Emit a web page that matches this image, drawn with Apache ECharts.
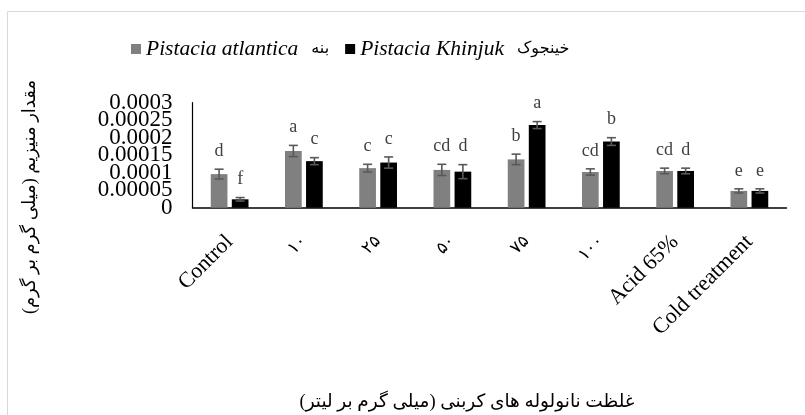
<!DOCTYPE html>
<html><head><meta charset="utf-8">
<script src="https://cdn.jsdelivr.net/npm/echarts@6/dist/echarts.min.js"></script>
<style>html,body{margin:0;padding:0;background:#fff}#c{width:805px;height:415px}</style>
</head><body><div id="c"></div>
<script>
const categories = ['Control', '۱۰', '۲۵', '۵۰', '۷۵', '۱۰۰', 'Acid 65%', 'Cold treatment'];
const atlanticaValues = [0.000096, 0.000162, 0.000113, 0.000108, 0.000138, 0.000102, 0.000105, 0.000048];
const atlanticaErrors = [0.000014, 0.000016, 0.000011, 0.000016, 0.000015, 0.000009, 0.000008, 0.000006];
const atlanticaLetters = ['d', 'a', 'c', 'cd', 'b', 'cd', 'cd', 'e'];
const khinjukValues = [0.000024, 0.000133, 0.000129, 0.000103, 0.000236, 0.000189, 0.000105, 0.000048];
const khinjukErrors = [0.000005, 0.00001, 0.000016, 0.00002, 0.00001, 0.000011, 0.000008, 0.000006];
const khinjukLetters = ['f', 'c', 'c', 'd', 'a', 'b', 'd', 'e'];
const yTickLabels = ['0', '0.00005', '0.0001', '0.00015', '0.0002', '0.00025', '0.0003'];
const seriesNames = ['Pistacia atlantica', 'Pistacia Khinjuk'];
const seriesPersian = ['بنه', 'خینجوک'];
const yTitle = 'مقدار منیزیم (میلی گرم بر گرم)';
const xTitle = 'غلظت نانولوله های کربنی (میلی گرم بر لیتر)';

const SERIF = "'Liberation Serif', 'DejaVu Serif', 'DejaVu Sans', serif";
const BAR_W = 0.225, BAR_GAP = 0.26;
const chart = echarts.init(document.getElementById('c'));

function errSeries(values, errors, letters, side) {
  return {
    type: 'custom',
    silent: true,
    z: 5,
    data: values.map((v, i) => [i, v, errors[i]]),
    renderItem: function (params, api) {
      const i = api.value(0), v = api.value(1), e = api.value(2);
      const band = api.size([1, 0])[0];
      const off = side * band * (BAR_W + BAR_W * BAR_GAP) / 2;
      const c = api.coord([i, v]);
      const x = c[0] + off;
      const yTop = api.coord([i, v + e])[1];
      const yBot = api.coord([i, v - e])[1];
      const cap = 4.5;
      const st = { stroke: '#595959', lineWidth: 1.6 };
      return {
        type: 'group',
        children: [
          { type: 'line', shape: { x1: x, y1: yTop, x2: x, y2: yBot }, style: st },
          { type: 'line', shape: { x1: x - cap, y1: yTop, x2: x + cap, y2: yTop }, style: st },
          { type: 'line', shape: { x1: x - cap, y1: yBot, x2: x + cap, y2: yBot }, style: st },
          { type: 'text', x: x, y: yTop - 9, style: { text: letters[i], font: '18px ' + SERIF, fill: '#404040', align: 'center', verticalAlign: 'bottom' } }
        ]
      };
    }
  };
}

// y tick labels drawn through the y scale (they overlap in the original, so the axis would hide some)
const yLabelSeries = {
  type: 'custom',
  silent: true,
  clip: false,
  data: yTickLabels.map((t) => [0, parseFloat(t)]),
  renderItem: function (params, api) {
    const y = api.coord([0, api.value(1)])[1];
    return {
      type: 'text', x: params.coordSys.x - 20, y: y,
      style: { text: yTickLabels[params.dataIndex], font: '23px ' + SERIF, fill: '#000', align: 'right', verticalAlign: 'middle' }
    };
  }
};

chart.setOption({
  animation: false,
  backgroundColor: '#fff',
  graphic: [
    { type: 'rect', shape: { x: 7.5, y: 11.5, width: 820, height: 430 }, style: { fill: 'none', stroke: '#d9d9d9', lineWidth: 1 } },
    { type: 'text', x: 30, y: 197, rotation: Math.PI / 2, style: { text: yTitle, font: '18px ' + SERIF, fill: '#000', align: 'center', verticalAlign: 'middle' } },
    { type: 'text', x: 467, y: 402, style: { text: xTitle, font: '18.5px ' + SERIF, fill: '#000', align: 'center', verticalAlign: 'middle' } }
  ],
  legend: {
    left: 126, top: 33,
    itemWidth: 10, itemHeight: 10, itemGap: 16,
    icon: 'rect',
    data: seriesNames,
    formatter: function (name) {
      const k = seriesNames.indexOf(name);
      return '{i|' + name + '}{a|' + seriesPersian[k] + '}';
    },
    textStyle: {
      rich: {
        i: { fontFamily: SERIF, fontStyle: 'italic', fontSize: 21.5, color: '#000' },
        a: { fontFamily: SERIF, fontSize: 16, color: '#000', padding: [0, 0, 0, 13] }
      }
    }
  },
  grid: { left: 192.5, right: 18.5, top: 102.7, bottom: 207.3, containLabel: false },
  xAxis: {
    type: 'category', data: categories,
    axisLine: { lineStyle: { color: '#000', width: 1.5 } },
    axisTick: { show: false },
    axisLabel: {
      rotate: 45, interval: 0, margin: 31, fontFamily: SERIF, fontSize: 22, color: '#000',
      formatter: function (v) { return /^[۰-۹]+$/.test(v) ? '{p|' + v + '}' : v; },
      rich: { p: { fontFamily: SERIF, fontSize: 17, color: '#000' } }
    }
  },
  yAxis: {
    type: 'value', min: 0, max: 0.0003, interval: 0.00005,
    axisLine: { show: true, lineStyle: { color: '#000', width: 1.2 } },
    axisTick: { show: false },
    splitLine: { show: false },
    axisLabel: { show: false }
  },
  series: [
    { name: seriesNames[0], type: 'bar', data: atlanticaValues, barWidth: (BAR_W * 100) + '%', barGap: (BAR_GAP * 100) + '%', itemStyle: { color: '#808080' } },
    { name: seriesNames[1], type: 'bar', data: khinjukValues, barWidth: (BAR_W * 100) + '%', itemStyle: { color: '#000000' } },
    errSeries(atlanticaValues, atlanticaErrors, atlanticaLetters, -1),
    errSeries(khinjukValues, khinjukErrors, khinjukLetters, 1),
    yLabelSeries
  ]
});
</script></body></html>
